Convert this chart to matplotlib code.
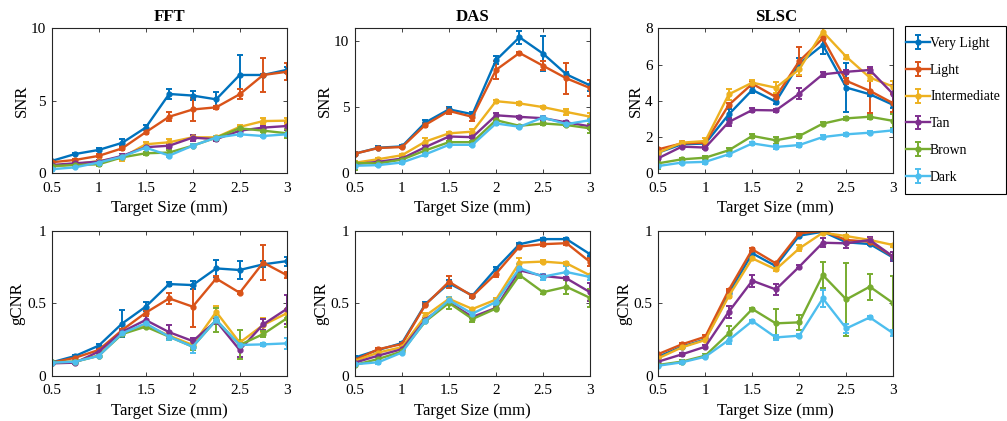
import numpy as np
import matplotlib
matplotlib.use("Agg")
import matplotlib.pyplot as plt
from matplotlib.patches import Rectangle

plt.rcParams['font.family'] = ['Liberation Serif', 'DejaVu Serif']

# target sizes (mm)
sizes = [0.5, 0.75, 1.0, 1.25, 1.5, 1.75, 2.0, 2.25, 2.5, 2.75, 3.0]
tones = ["Very Light", "Light", "Intermediate", "Tan", "Brown", "Dark"]
colors = ["#0072BD", "#D95319", "#EDB120", "#7E2F8E", "#77AC30", "#4DBEEE"]
methods = ["FFT", "DAS", "SLSC"]

# ---- SNR ----
fft_snr = [[0.85, 1.33, 1.61, 2.1, 3.15, 5.47, 5.36, 5.1, 6.78, 6.78, 7.13],
           [0.76, 0.92, 1.2, 1.72, 2.83, 3.9, 4.4, 4.55, 5.45, 6.78, 7.0],
           [0.46, 0.62, 0.85, 1.08, 2.0, 2.14, 2.48, 2.48, 3.2, 3.6, 3.63],
           [0.57, 0.69, 0.8, 1.2, 1.8, 1.9, 2.46, 2.35, 2.94, 3.15, 3.26],
           [0.5, 0.57, 0.62, 1.1, 1.38, 1.43, 1.9, 2.46, 3.1, 2.94, 2.76],
           [0.28, 0.41, 0.74, 1.15, 1.77, 1.22, 1.9, 2.46, 2.69, 2.57, 2.69]]
fft_snr_err = [[0.05, 0.1, 0.1, 0.25, 0.15, 0.35, 0.3, 0.5, 1.35, 0.1, 0.2],
               [0.05, 0.05, 0.1, 0.1, 0.15, 0.3, 0.8, 0.1, 0.35, 1.15, 0.6],
               [0.1, 0.05, 0.1, 0.25, 0.15, 0.2, 0.1, 0.1, 0.1, 0.2, 0.2],
               [0.05, 0.05, 0.1, 0.15, 0.1, 0.15, 0.2, 0.15, 0.1, 0.1, 0.3],
               [0.2, 0.05, 0.1, 0.1, 0.1, 0.2, 0.1, 0.1, 0.1, 0.1, 0.3],
               [0.1, 0.05, 0.05, 0.1, 0.1, 0.1, 0.1, 0.1, 0.1, 0.1, 0.1]]

das_snr = [[1.49, 1.94, 2.04, 3.86, 4.85, 4.48, 8.58, 10.32, 9.08, 7.5, 6.67],
           [1.49, 1.92, 1.99, 3.68, 4.73, 4.28, 7.84, 9.13, 8.16, 7.2, 6.47],
           [0.8, 1.07, 1.37, 2.41, 3.03, 3.16, 5.47, 5.3, 5.02, 4.65, 4.3],
           [0.7, 0.87, 1.12, 1.99, 2.79, 2.74, 4.4, 4.28, 4.18, 3.86, 3.56],
           [0.78, 0.75, 1.04, 1.74, 2.36, 2.36, 4.03, 3.6, 3.78, 3.66, 3.41],
           [0.57, 0.62, 0.82, 1.44, 2.16, 2.16, 3.78, 3.53, 4.23, 3.73, 4.03]]
das_snr_err = [[0.1, 0.1, 0.1, 0.2, 0.15, 0.2, 0.3, 0.5, 1.3, 0.2, 0.4],
               [0.1, 0.1, 0.1, 0.15, 0.2, 0.3, 0.7, 0.1, 0.35, 1.15, 0.6],
               [0.1, 0.1, 0.1, 0.25, 0.1, 0.2, 0.1, 0.1, 0.1, 0.25, 0.25],
               [0.1, 0.1, 0.1, 0.15, 0.1, 0.1, 0.2, 0.1, 0.1, 0.1, 0.2],
               [0.55, 0.1, 0.1, 0.1, 0.1, 0.1, 0.1, 0.1, 0.1, 0.1, 0.35],
               [0.1, 0.1, 0.1, 0.1, 0.1, 0.1, 0.1, 0.1, 0.1, 0.1, 0.1]]

slsc_snr = [[1.14, 1.6, 1.64, 3.25, 4.6, 3.95, 6.05, 7.08, 4.73, 4.36, 3.77],
            [1.32, 1.65, 1.69, 3.77, 4.94, 4.21, 6.19, 7.44, 5.1, 4.55, 3.86],
            [1.14, 1.69, 1.78, 4.36, 5.0, 4.72, 5.74, 7.81, 6.43, 5.28, 4.78],
            [0.83, 1.47, 1.42, 2.83, 3.49, 3.47, 4.39, 5.46, 5.6, 5.7, 4.36],
            [0.55, 0.77, 0.86, 1.27, 2.06, 1.82, 2.06, 2.74, 3.03, 3.12, 2.89],
            [0.4, 0.59, 0.63, 1.05, 1.65, 1.45, 1.56, 2.0, 2.15, 2.24, 2.37]]
slsc_snr_err = [[0.1, 0.1, 0.1, 0.3, 0.15, 0.15, 0.3, 0.5, 1.33, 0.1, 0.15],
                [0.1, 0.1, 0.1, 0.1, 0.15, 0.15, 0.8, 0.1, 0.15, 1.2, 0.5],
                [0.15, 0.1, 0.15, 0.3, 0.15, 0.3, 0.3, 0.2, 0.1, 0.2, 0.3],
                [0.1, 0.1, 0.1, 0.2, 0.1, 0.1, 0.3, 0.15, 0.1, 0.15, 0.5],
                [0.3, 0.1, 0.1, 0.1, 0.1, 0.2, 0.1, 0.1, 0.1, 0.1, 0.4],
                [0.1, 0.1, 0.1, 0.1, 0.1, 0.1, 0.1, 0.1, 0.1, 0.1, 0.1]]

# ---- gCNR ----
fft_gcnr = [[0.092, 0.136, 0.207, 0.36, 0.476, 0.632, 0.625, 0.74, 0.729, 0.768, 0.79],
            [0.09, 0.124, 0.177, 0.315, 0.434, 0.533, 0.476, 0.67, 0.572, 0.78, 0.694],
            [0.09, 0.097, 0.138, 0.3, 0.35, 0.276, 0.212, 0.44, 0.228, 0.35, 0.43],
            [0.085, 0.09, 0.166, 0.303, 0.384, 0.3, 0.239, 0.377, 0.177, 0.354, 0.46],
            [0.092, 0.097, 0.138, 0.287, 0.338, 0.269, 0.2, 0.384, 0.212, 0.287, 0.395],
            [0.09, 0.097, 0.136, 0.292, 0.361, 0.269, 0.2, 0.384, 0.212, 0.216, 0.223]]
fft_gcnr_err = [[0.01, 0.01, 0.015, 0.09, 0.03, 0.015, 0.03, 0.06, 0.06, 0.02, 0.03],
                [0.01, 0.01, 0.01, 0.01, 0.02, 0.04, 0.14, 0.015, 0.01, 0.12, 0.02],
                [0.01, 0.01, 0.01, 0.01, 0.02, 0.02, 0.02, 0.04, 0.02, 0.05, 0.03],
                [0.01, 0.01, 0.015, 0.01, 0.04, 0.05, 0.02, 0.02, 0.05, 0.04, 0.1],
                [0.01, 0.01, 0.01, 0.01, 0.01, 0.02, 0.02, 0.08, 0.1, 0.02, 0.06],
                [0.01, 0.01, 0.01, 0.01, 0.01, 0.02, 0.04, 0.02, 0.01, 0.01, 0.04]]

das_gcnr = [[0.125, 0.178, 0.225, 0.495, 0.637, 0.553, 0.738, 0.907, 0.942, 0.942, 0.838],
            [0.109, 0.183, 0.218, 0.49, 0.648, 0.549, 0.704, 0.891, 0.907, 0.914, 0.785],
            [0.102, 0.16, 0.197, 0.414, 0.53, 0.46, 0.525, 0.78, 0.787, 0.775, 0.692],
            [0.09, 0.139, 0.183, 0.387, 0.507, 0.405, 0.468, 0.727, 0.688, 0.671, 0.576],
            [0.074, 0.116, 0.167, 0.375, 0.502, 0.391, 0.463, 0.694, 0.576, 0.613, 0.537],
            [0.079, 0.093, 0.16, 0.38, 0.521, 0.428, 0.509, 0.741, 0.683, 0.715, 0.681]]
das_gcnr_err = [[0.01, 0.01, 0.01, 0.01, 0.02, 0.01, 0.01, 0.01, 0.01, 0.01, 0.01],
                [0.01, 0.01, 0.01, 0.01, 0.04, 0.01, 0.02, 0.01, 0.015, 0.015, 0.03],
                [0.01, 0.01, 0.01, 0.02, 0.01, 0.01, 0.01, 0.03, 0.01, 0.01, 0.01],
                [0.01, 0.01, 0.01, 0.01, 0.01, 0.01, 0.01, 0.02, 0.01, 0.01, 0.06],
                [0.01, 0.01, 0.01, 0.01, 0.04, 0.02, 0.01, 0.02, 0.01, 0.05, 0.06],
                [0.01, 0.01, 0.01, 0.01, 0.02, 0.02, 0.02, 0.03, 0.02, 0.04, 0.02]]

slsc_gcnr = [[0.131, 0.2, 0.25, 0.568, 0.844, 0.756, 0.966, 0.993, 0.92, 0.908, 0.814],
             [0.149, 0.216, 0.269, 0.591, 0.871, 0.775, 0.982, 0.998, 0.936, 0.924, 0.821],
             [0.12, 0.195, 0.246, 0.549, 0.809, 0.733, 0.878, 0.986, 0.963, 0.936, 0.901],
             [0.097, 0.147, 0.2, 0.441, 0.655, 0.595, 0.752, 0.917, 0.913, 0.936, 0.821],
             [0.074, 0.097, 0.138, 0.292, 0.46, 0.361, 0.368, 0.694, 0.526, 0.614, 0.5],
             [0.069, 0.092, 0.131, 0.246, 0.377, 0.264, 0.276, 0.533, 0.326, 0.402, 0.292]]
slsc_gcnr_err = [[0.01, 0.01, 0.01, 0.01, 0.01, 0.01, 0.01, 0.01, 0.01, 0.01, 0.01],
                 [0.01, 0.01, 0.01, 0.01, 0.01, 0.01, 0.01, 0.01, 0.01, 0.01, 0.01],
                 [0.01, 0.01, 0.01, 0.01, 0.01, 0.01, 0.02, 0.01, 0.01, 0.01, 0.01],
                 [0.01, 0.01, 0.01, 0.04, 0.04, 0.04, 0.01, 0.03, 0.03, 0.02, 0.03],
                 [0.01, 0.01, 0.01, 0.05, 0.01, 0.1, 0.05, 0.09, 0.25, 0.09, 0.19],
                 [0.01, 0.01, 0.01, 0.03, 0.01, 0.02, 0.01, 0.06, 0.03, 0.01, 0.02]]

snr = [(fft_snr, fft_snr_err), (das_snr, das_snr_err), (slsc_snr, slsc_snr_err)]
gcnr = [(fft_gcnr, fft_gcnr_err), (das_gcnr, das_gcnr_err), (slsc_gcnr, slsc_gcnr_err)]
snr_ylim = [(0, 10), (0, 11), (0, 8)]
snr_ticks = [[0, 5, 10], [0, 5, 10], [0, 2, 4, 6, 8]]

W, H = 1007, 421
fig = plt.figure(figsize=(W / 100, H / 100), dpi=100)
lefts = [0.0513, 0.3525, 0.6537]
width, height = 0.2334, 0.3444
bottoms = [0.5884, 0.1076]


def style(ax):
    ax.set_xlim(0.5, 3)
    ax.set_xticks([0.5, 1, 1.5, 2, 2.5, 3])
    ax.set_xticklabels(["0.5", "1", "1.5", "2", "2.5", "3"])
    ax.tick_params(direction="in", top=True, right=True, labelsize=11,
                   length=3, width=0.6, colors="#262626", labelcolor="black")
    ax.tick_params(axis="x", pad=6)
    ax.tick_params(axis="y", pad=4)
    for s in ax.spines.values():
        s.set_linewidth(0.8)
        s.set_color("#262626")
    ax.set_xlabel("Target Size (mm)", fontsize=12.1, labelpad=4)


def draw(ax, means, errs):
    hs = []
    for i in range(6):
        h = ax.errorbar(sizes, means[i], yerr=errs[i], fmt=".-", color=colors[i],
                        lw=1.7, elinewidth=1.4, capsize=2, capthick=1.4, ms=7,
                        label=tones[i])
        hs.append(h)
    return hs


handles = []
for c in range(3):
    ax = fig.add_axes([lefts[c], bottoms[0], width, height])
    hs = draw(ax, *snr[c])
    if c == 2:
        handles = hs
    style(ax)
    ax.set_ylim(*snr_ylim[c])
    ax.set_yticks(snr_ticks[c])
    ax.set_ylabel("SNR", fontsize=12.1, labelpad=1)
    ax.set_title(methods[c], fontsize=12.1, fontweight="bold", pad=5)

    ax = fig.add_axes([lefts[c], bottoms[1], width, height])
    draw(ax, *gcnr[c])
    style(ax)
    ax.set_ylim(0, 1)
    ax.set_yticks([0, 0.5, 1])
    ax.set_yticklabels(["0", "0.5", "1"])
    ax.set_ylabel("gCNR", fontsize=12.1, labelpad=1)

# legend box drawn separately so the entries can sit close to its left edge
fig.patches.append(Rectangle((905 / W, 1 - 194 / H), 101 / W, 168 / H,
                             transform=fig.transFigure, fill=False,
                             edgecolor="black", lw=0.8))
leg = fig.legend(handles=handles, loc="upper left",
                 bbox_to_anchor=(906 / W, 1 - 37 / H),
                 fontsize=9.9, frameon=False,
                 handlelength=1.75, handletextpad=0.0, labelspacing=1.0,
                 borderpad=0, borderaxespad=0)

fig.savefig("out.png", dpi=100)
